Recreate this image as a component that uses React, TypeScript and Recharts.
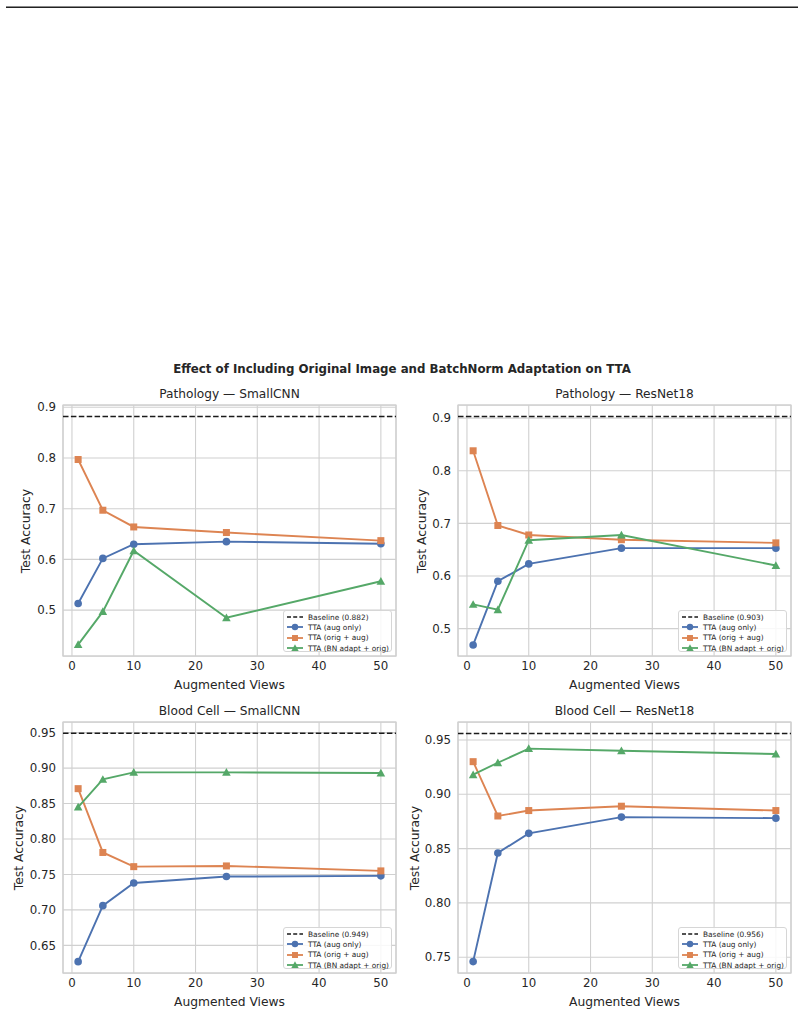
import React from "react";
import { CartesianGrid, Line, LineChart, ReferenceArea, ReferenceLine, XAxis, YAxis } from "recharts";

// Number of augmented views evaluated
const VIEWS = [1, 5, 10, 25, 50];

// Pathology — SmallCNN
const PATH_SMALL_BASE = 0.882;
const PATH_SMALL_AUG = [0.513, 0.602, 0.63, 0.635, 0.631];
const PATH_SMALL_ORIG = [0.797, 0.697, 0.664, 0.653, 0.637];
const PATH_SMALL_BN = [0.432, 0.497, 0.617, 0.485, 0.557];

// Pathology — ResNet18
const PATH_RES_BASE = 0.903;
const PATH_RES_AUG = [0.469, 0.59, 0.623, 0.653, 0.653];
const PATH_RES_ORIG = [0.838, 0.696, 0.678, 0.669, 0.663];
const PATH_RES_BN = [0.546, 0.536, 0.668, 0.678, 0.62];

// Blood Cell — SmallCNN
const BLOOD_SMALL_BASE = 0.949;
const BLOOD_SMALL_AUG = [0.627, 0.706, 0.738, 0.747, 0.748];
const BLOOD_SMALL_ORIG = [0.871, 0.781, 0.761, 0.762, 0.755];
const BLOOD_SMALL_BN = [0.845, 0.884, 0.894, 0.894, 0.893];

// Blood Cell — ResNet18
const BLOOD_RES_BASE = 0.956;
const BLOOD_RES_AUG = [0.746, 0.846, 0.864, 0.879, 0.878];
const BLOOD_RES_ORIG = [0.93, 0.88, 0.885, 0.889, 0.885];
const BLOOD_RES_BN = [0.918, 0.929, 0.942, 0.94, 0.937];

const X_TICKS = [0, 10, 20, 30, 40, 50];
const Y_TICKS_PATH = [0.5, 0.6, 0.7, 0.8, 0.9];
const Y_TICKS_BLOOD_SMALL = [0.65, 0.7, 0.75, 0.8, 0.85, 0.9, 0.95];
const Y_TICKS_BLOOD_RES = [0.75, 0.8, 0.85, 0.9, 0.95];

const X_DOMAIN: [number, number] = [-1.45, 52.45];

const BLUE = "#4c72b0";
const ORANGE = "#dd8452";
const GREEN = "#55a868";
const TEXT = "#262626";
const GRID = "#d0d0d0";
const FONT = "'DejaVu Sans', sans-serif";

const PLOT_W = 333;
const PLOT_H = 251;
const TOP_PAD = 25;
const X_AXIS_H = 40;

type Marker = "circle" | "square" | "triangle";

function markerShape(kind: Marker, color: string, cx: number, cy: number, size = 1, key?: string | number) {
  if (kind === "circle") return <circle key={key} cx={cx} cy={cy} r={3.8 * size} fill={color} />;
  if (kind === "square") {
    const h = 3.5 * size;
    return <rect key={key} x={cx - h} y={cy - h} width={h * 2} height={h * 2} fill={color} />;
  }
  const s = 4.3 * size;
  return (
    <polygon
      key={key}
      points={`${cx},${cy - s} ${cx - s},${cy + s * 0.8} ${cx + s},${cy + s * 0.8}`}
      fill={color}
    />
  );
}

const dotFor = (kind: Marker, color: string) => (p: any) => {
  if (p.cx == null || p.cy == null) return <g key={p.index} />;
  return markerShape(kind, color, p.cx, p.cy, 1, p.index);
};

interface PanelProps {
  title: string;
  baseline: number;
  aug: number[];
  orig: number[];
  bn: number[];
  yDomain: [number, number];
  yTicks: number[];
  digits: number;
  left: number;
  top: number;
  yAxisW: number;
  yLabelX: number;
}

function Panel(p: PanelProps) {
  const data = VIEWS.map((v, i) => ({ views: v, aug: p.aug[i], orig: p.orig[i], bn: p.bn[i] }));
  const plotLeft = p.left + p.yAxisW;
  const plotTop = p.top + TOP_PAD;
  const width = p.yAxisW + PLOT_W + 6;
  const height = TOP_PAD + PLOT_H + X_AXIS_H;
  const tick = { fill: TEXT, fontSize: 11.8, fontFamily: FONT };

  return (
    <>
      <div style={{ position: "absolute", left: p.left, top: p.top }}>
        <LineChart
          width={width}
          height={height}
          data={data}
          margin={{ top: TOP_PAD, right: 6, bottom: 0, left: 0 }}
        >
          <CartesianGrid stroke={GRID} strokeWidth={1.1} />
          <ReferenceArea
            x1={X_DOMAIN[0]}
            x2={X_DOMAIN[1]}
            y1={p.yDomain[0]}
            y2={p.yDomain[1]}
            fill="none"
            stroke={GRID}
            strokeWidth={1.25}
            ifOverflow="visible"
          />
          <XAxis
            dataKey="views"
            type="number"
            domain={X_DOMAIN}
            ticks={X_TICKS}
            allowDataOverflow
            height={X_AXIS_H}
            tick={tick}
            tickLine={false}
            axisLine={false}
            tickSize={0}
            tickMargin={6}
          />
          <YAxis
            type="number"
            domain={p.yDomain}
            ticks={p.yTicks}
            allowDataOverflow
            width={p.yAxisW}
            tick={tick}
            tickFormatter={(v: number) => v.toFixed(p.digits)}
            tickLine={false}
            axisLine={false}
            tickSize={0}
            tickMargin={7}
          />
          <ReferenceLine y={p.baseline} stroke="#1a1a1a" strokeWidth={1.5} strokeDasharray="5.5 2.4" />
          <Line
            dataKey="aug"
            stroke={BLUE}
            strokeWidth={1.9}
            dot={dotFor("circle", BLUE)}
            activeDot={false}
            isAnimationActive={false}
          />
          <Line
            dataKey="orig"
            stroke={ORANGE}
            strokeWidth={1.9}
            dot={dotFor("square", ORANGE)}
            activeDot={false}
            isAnimationActive={false}
          />
          <Line
            dataKey="bn"
            stroke={GREEN}
            strokeWidth={1.9}
            dot={dotFor("triangle", GREEN)}
            activeDot={false}
            isAnimationActive={false}
          />
        </LineChart>
      </div>

      <div
        style={{
          position: "absolute",
          left: plotLeft,
          width: PLOT_W,
          top: plotTop - 11 - 6,
          height: 12,
          lineHeight: "12px",
          textAlign: "center",
          fontSize: 12.2,
          color: TEXT,
          fontFamily: FONT,
          whiteSpace: "nowrap",
        }}
      >
        {p.title}
      </div>
      <div
        style={{
          position: "absolute",
          left: plotLeft,
          width: PLOT_W,
          top: plotTop + PLOT_H + 29 - 6,
          height: 12,
          lineHeight: "12px",
          textAlign: "center",
          fontSize: 12.3,
          color: TEXT,
          fontFamily: FONT,
          whiteSpace: "nowrap",
        }}
      >
        Augmented Views
      </div>
      <div
        style={{
          position: "absolute",
          left: p.yLabelX - 60,
          width: 120,
          top: plotTop + PLOT_H / 2 - 6,
          height: 12,
          lineHeight: "12px",
          textAlign: "center",
          fontSize: 12.3,
          color: TEXT,
          fontFamily: FONT,
          whiteSpace: "nowrap",
          transform: "rotate(-90deg)",
        }}
      >
        Test Accuracy
      </div>

      <LegendBox left={plotLeft + PLOT_W - 5 - 108} top={plotTop + PLOT_H - 5 - 41} baseline={p.baseline} />
    </>
  );
}

function LegendBox({ left, top, baseline }: { left: number; top: number; baseline: number }) {
  const rows: { label: string; color: string; marker?: Marker; dashed?: boolean }[] = [
    { label: `Baseline (${baseline.toFixed(3)})`, color: "#1a1a1a", dashed: true },
    { label: "TTA (aug only)", color: BLUE, marker: "circle" },
    { label: "TTA (orig + aug)", color: ORANGE, marker: "square" },
    { label: "TTA (BN adapt + orig)", color: GREEN, marker: "triangle" },
  ];
  return (
    <div
      style={{
        position: "absolute",
        left,
        top,
        width: 107,
        height: 39,
        padding: "1px 0 0 0",
        border: "1px solid #d6d6d6",
        borderRadius: 3,
        background: "rgba(255,255,255,0.85)",
        fontFamily: FONT,
        fontSize: 7.4,
        color: TEXT,
      }}
    >
      {rows.map((r) => (
        <div key={r.label} style={{ display: "flex", alignItems: "center", height: 10.3 }}>
          <svg width={24} height={10} style={{ flex: "none" }}>
            <line
              x1={3}
              x2={19}
              y1={5}
              y2={5}
              stroke={r.color}
              strokeWidth={r.dashed ? 1.5 : 1.8}
              strokeDasharray={r.dashed ? "4 2.2" : undefined}
            />
            {r.marker && markerShape(r.marker, r.color, 11, 5, 0.85)}
          </svg>
          <span style={{ whiteSpace: "nowrap" }}>{r.label}</span>
        </div>
      ))}
    </div>
  );
}

export default function App() {
  return (
    <div
      style={{
        position: "absolute",
        left: 0,
        top: 0,
        width: 804,
        height: 1016,
        background: "#fff",
        overflow: "hidden",
        fontFamily: FONT,
      }}
    >
      <div style={{ position: "absolute", left: 6, top: 6, width: 792, height: 1, background: "#8a8a8a" }} />
      <div style={{ position: "absolute", left: 6, top: 7, width: 792, height: 1, background: "#222" }} />

      <div
        style={{
          position: "absolute",
          left: 0,
          width: 804,
          top: 363,
          height: 12,
          lineHeight: "12px",
          textAlign: "center",
          fontSize: 11.8,
          fontWeight: "bold",
          color: TEXT,
          whiteSpace: "nowrap",
        }}
      >
        Effect of Including Original Image and BatchNorm Adaptation on TTA
      </div>

      <Panel
        title="Pathology — SmallCNN"
        baseline={PATH_SMALL_BASE}
        aug={PATH_SMALL_AUG}
        orig={PATH_SMALL_ORIG}
        bn={PATH_SMALL_BN}
        yDomain={[0.4095, 0.9045]}
        yTicks={Y_TICKS_PATH}
        digits={1}
        left={0}
        top={380}
        yAxisW={63}
        yLabelX={26}
      />
      <Panel
        title="Pathology — ResNet18"
        baseline={PATH_RES_BASE}
        aug={PATH_RES_AUG}
        orig={PATH_RES_ORIG}
        bn={PATH_RES_BN}
        yDomain={[0.448, 0.925]}
        yTicks={Y_TICKS_PATH}
        digits={1}
        left={400}
        top={380}
        yAxisW={58}
        yLabelX={422}
      />
      <Panel
        title="Blood Cell — SmallCNN"
        baseline={BLOOD_SMALL_BASE}
        aug={BLOOD_SMALL_AUG}
        orig={BLOOD_SMALL_ORIG}
        bn={BLOOD_SMALL_BN}
        yDomain={[0.611, 0.965]}
        yTicks={Y_TICKS_BLOOD_SMALL}
        digits={2}
        left={0}
        top={697}
        yAxisW={63}
        yLabelX={19}
      />
      <Panel
        title="Blood Cell — ResNet18"
        baseline={BLOOD_RES_BASE}
        aug={BLOOD_RES_AUG}
        orig={BLOOD_RES_ORIG}
        bn={BLOOD_RES_BN}
        yDomain={[0.7355, 0.9665]}
        yTicks={Y_TICKS_BLOOD_RES}
        digits={2}
        left={400}
        top={697}
        yAxisW={58}
        yLabelX={415}
      />
    </div>
  );
}
